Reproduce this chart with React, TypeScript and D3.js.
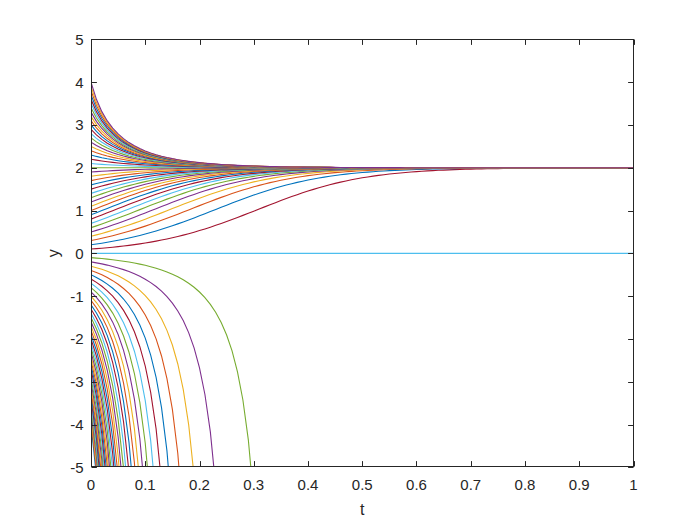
import React from "react";
import * as d3 from "d3";

// ---- data ----
// initial values of the plotted solutions, read from the left edge (step 0.1)
const INITIAL_VALUES: number[] = [
  -4.0, -3.9, -3.8, -3.7, -3.6, -3.5, -3.4, -3.3, -3.2, -3.1,
  -3.0, -2.9, -2.8, -2.7, -2.6, -2.5, -2.4, -2.3, -2.2, -2.1,
  -2.0, -1.9, -1.8, -1.7, -1.6, -1.5, -1.4, -1.3, -1.2, -1.1,
  -1.0, -0.9, -0.8, -0.7, -0.6, -0.5, -0.4, -0.3, -0.2, -0.1,
  0.0, 0.1, 0.2, 0.3, 0.4, 0.5, 0.6, 0.7, 0.8, 0.9,
  1.0, 1.1, 1.2, 1.3, 1.4, 1.5, 1.6, 1.7, 1.8, 1.9,
  2.0, 2.1, 2.2, 2.3, 2.4, 2.5, 2.6, 2.7, 2.8, 2.9,
  3.0, 3.1, 3.2, 3.3, 3.4, 3.5, 3.6, 3.7, 3.8, 3.9,
  4.0,
];
// logistic model y' = RATE * y * (1 - y / CAPACITY), stepped with Euler
const RATE = 10;
const CAPACITY = 2;
const STEP = 0.01;
const T_START = 0;
const T_END = 1;

const X_TICKS: number[] = [0, 0.1, 0.2, 0.3, 0.4, 0.5, 0.6, 0.7, 0.8, 0.9, 1];
const Y_TICKS: number[] = [-5, -4, -3, -2, -1, 0, 1, 2, 3, 4, 5];
const X_LABEL = "t";
const Y_LABEL = "y";

const COLORS = ["#0072BD", "#D95319", "#EDB120", "#7E2F8E", "#77AC30", "#4DBEEE", "#A2142F"];

function solve(y0: number): [number, number][] {
  const pts: [number, number][] = [[T_START, y0]];
  let y = y0;
  const n = Math.round((T_END - T_START) / STEP);
  for (let i = 1; i <= n; i++) {
    y = y + STEP * RATE * y * (1 - y / CAPACITY);
    if (!isFinite(y)) break;
    pts.push([T_START + i * STEP, y]);
    if (y < -1000) break;
  }
  return pts;
}

export default function App() {
  const W = 700;
  const H = 525;
  const left = 91;
  const right = 633.5;
  const top = 39.4;
  const bottom = 467.3;
  const x = d3.scaleLinear().domain([0, 1]).range([left, right]);
  const y = d3.scaleLinear().domain([-5, 5]).range([bottom, top]);
  const line = d3
    .line<[number, number]>()
    .x((d) => x(d[0]))
    .y((d) => y(Math.max(-60, Math.min(60, d[1]))));
  const axisColor = "#262626";
  const tickLen = 5.4;
  const font = "'Liberation Sans', Arial, Helvetica, sans-serif";
  const L = Math.round(left) + 0.5;
  const R = Math.round(right) - 0.5;
  const T = Math.round(top) + 0.5;
  const B = Math.round(bottom) - 0.5;

  return (
    <svg
      width={W}
      height={H}
      style={{ position: "absolute", left: 0, top: 0, background: "#fff" }}
    >
      <rect x={0} y={0} width={W} height={H} fill="#ffffff" />
      <defs>
        <clipPath id="plotClip">
          <rect x={L} y={T} width={R - L} height={B - T} />
        </clipPath>
      </defs>
      <g clipPath="url(#plotClip)">
        {INITIAL_VALUES.map((v, i) => (
          <path
            key={i}
            d={line(solve(v)) || ""}
            fill="none"
            stroke={COLORS[i % COLORS.length]}
            strokeWidth={1.1}
          />
        ))}
      </g>
      {/* box */}
      <rect x={L} y={T} width={R - L} height={B - T} fill="none" stroke={axisColor} strokeWidth={1} />
      {/* x ticks */}
      {X_TICKS.map((t) => {
        const px = Math.round(x(t)) + 0.5;
        return (
          <g key={"xt" + t}>
            <line x1={px} x2={px} y1={B} y2={B - tickLen} stroke={axisColor} />
            <line x1={px} x2={px} y1={T} y2={T + tickLen} stroke={axisColor} />
            <text
              x={x(t)}
              y={B + 23}
              textAnchor="middle"
              fontFamily={font}
              fontSize={15}
              fill={axisColor}
            >
              {d3.format("~g")(t)}
            </text>
          </g>
        );
      })}
      {/* y ticks */}
      {Y_TICKS.map((v) => {
        const py = Math.round(y(v)) + 0.5;
        return (
          <g key={"yt" + v}>
            <line x1={L} x2={L + tickLen} y1={py} y2={py} stroke={axisColor} />
            <line x1={R} x2={R - tickLen} y1={py} y2={py} stroke={axisColor} />
            <text
              x={L - 8}
              y={y(v) + 5.5}
              textAnchor="end"
              fontFamily={font}
              fontSize={15}
              fill={axisColor}
            >
              {String(v)}
            </text>
          </g>
        );
      })}
      <text
        x={(left + right) / 2}
        y={B + 48}
        textAnchor="middle"
        fontFamily={font}
        fontSize={16}
        fill={axisColor}
      >
        {X_LABEL}
      </text>
      <text
        transform={`translate(${L - 33},${(top + bottom) / 2}) rotate(-90)`}
        textAnchor="middle"
        fontFamily={font}
        fontSize={16}
        fill={axisColor}
      >
        {Y_LABEL}
      </text>
    </svg>
  );
}
